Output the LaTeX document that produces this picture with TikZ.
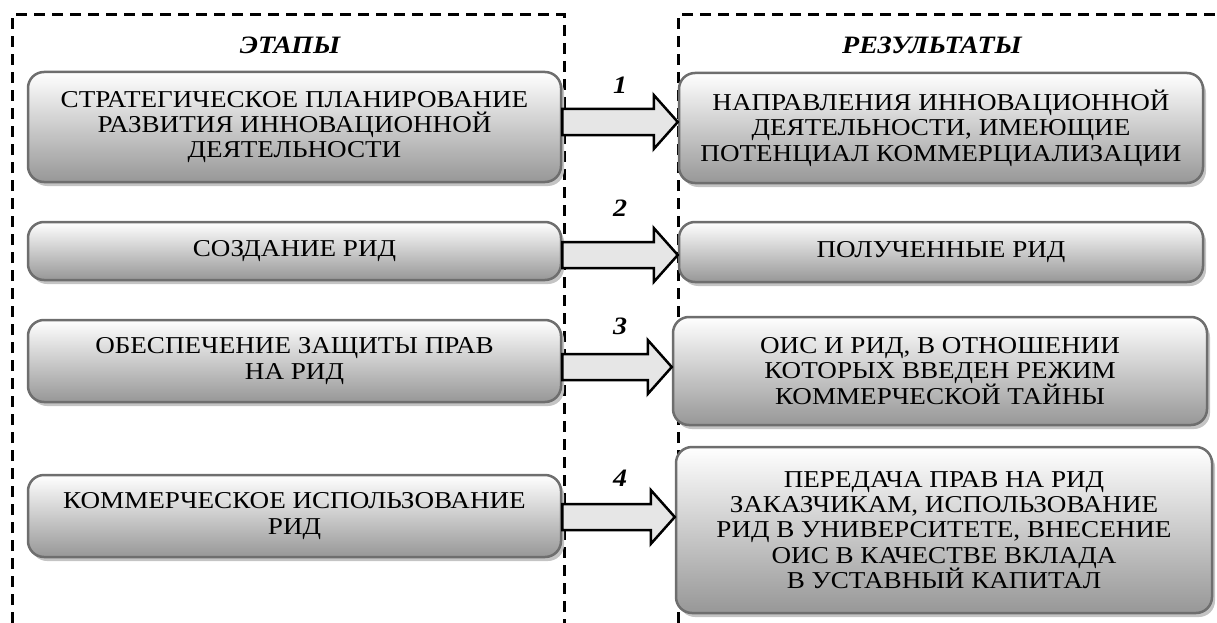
\documentclass[tikz,border=0pt]{standalone}
\usepackage{fontspec}
\setmainfont{Liberation Serif}[FakeStretch=1.12]
\definecolor{boxBorder}{HTML}{6E6E6E}
\definecolor{boxBottom}{HTML}{979797}
\definecolor{arrowFill}{HTML}{E6E6E6}
\definecolor{shadowGray}{HTML}{C4C4C4}
\usetikzlibrary{positioning, calc, shadows}

\tikzset{
  stagebox/.style={draw=boxBorder, line width=2.5pt, rounded corners=16pt,
    top color=white, bottom color=boxBottom, align=center, inner sep=0pt,
    font={\fontsize{24.2}{25.4}\selectfont\lineskiplimit=-20pt},
    drop shadow={shadow xshift=3pt, shadow yshift=-4pt, fill=shadowGray, opacity=1}},
  boxsize/.style 2 args={minimum width=#1pt, minimum height=#2pt},
  frameline/.style={line width=3pt, dash pattern=on 11pt off 7pt},
  bigarrow/.style={draw=black, fill=arrowFill, line width=2.5pt, line join=miter},
  headtext/.style={font=\fontsize{25}{25}\selectfont\bfseries\itshape}
}

\begin{document}
\begin{tikzpicture}[x=1pt, y=-1pt]
  \useasboundingbox (0,0) rectangle (1217,623);

  % Dashed frames
  \draw[frameline] (12,623) |- (564,15) -- (564,623);
  \draw[frameline] (678,623) |- (1217,15);

  % Titles
  \node[headtext] (tstage) at (290,45) {ЭТАПЫ};
  \node[headtext] (tresult) at (932,45) {РЕЗУЛЬТАТЫ};

  % Stages
  \node[stagebox, boxsize={533}{110}] (l1) at (294.5,127)
    {СТРАТЕГИЧЕСКОЕ ПЛАНИРОВАНИЕ\\РАЗВИТИЯ ИННОВАЦИОННОЙ\\ДЕЯТЕЛЬНОСТИ};
  \node[stagebox, boxsize={533}{58}] (l2) at (294.5,251) {СОЗДАНИЕ РИД};
  \node[stagebox, boxsize={533}{82}] (l3) at (294.5,361)
    {ОБЕСПЕЧЕНИЕ ЗАЩИТЫ ПРАВ\\НА РИД};
  \node[stagebox, boxsize={533}{82}] (l4) at (294.5,516)
    {КОММЕРЧЕСКОЕ ИСПОЛЬЗОВАНИЕ\\РИД};

  % Results
  \node[stagebox, boxsize={524}{110}] (r1) at (941,128)
    {НАПРАВЛЕНИЯ ИННОВАЦИОННОЙ\\ДЕЯТЕЛЬНОСТИ, ИМЕЮЩИЕ\\ПОТЕНЦИАЛ КОММЕРЦИАЛИЗАЦИИ};
  \node[stagebox, boxsize={524}{60}] (r2) at (941,252) {ПОЛУЧЕННЫЕ РИД};
  \node[stagebox, boxsize={534}{108}] (r3) at (940,371)
    {ОИС И РИД, В ОТНОШЕНИИ\\КОТОРЫХ ВВЕДЕН РЕЖИМ\\КОММЕРЧЕСКОЙ ТАЙНЫ};
  \node[stagebox, boxsize={536}{166}] (r4) at (944,530)
    {ПЕРЕДАЧА ПРАВ НА РИД\\ЗАКАЗЧИКАМ, ИСПОЛЬЗОВАНИЕ\\РИД В УНИВЕРСИТЕТЕ, ВНЕСЕНИЕ\\ОИС В КАЧЕСТВЕ ВКЛАДА\\В УСТАВНЫЙ КАПИТАЛ};

  % Arrows and numbers
  \foreach \i/\ay/\ny in {1/122/85, 2/255/208, 3/367/326, 4/517/478} {
    \coordinate (a\i) at (0,\ay);
    \draw[bigarrow] ($(l\i.east |- a\i)+(0,-13)$) -- ($(r\i.west |- a\i)+(-24,-13)$)
      -- ($(r\i.west |- a\i)+(-24,-27)$) -- (r\i.west |- a\i)
      -- ($(r\i.west |- a\i)+(-24,27)$) -- ($(r\i.west |- a\i)+(-24,13)$)
      -- ($(l\i.east |- a\i)+(0,13)$) -- cycle;
    \node[headtext] (n\i) at (620,\ny) {\i};
  }
\end{tikzpicture}
\end{document}
